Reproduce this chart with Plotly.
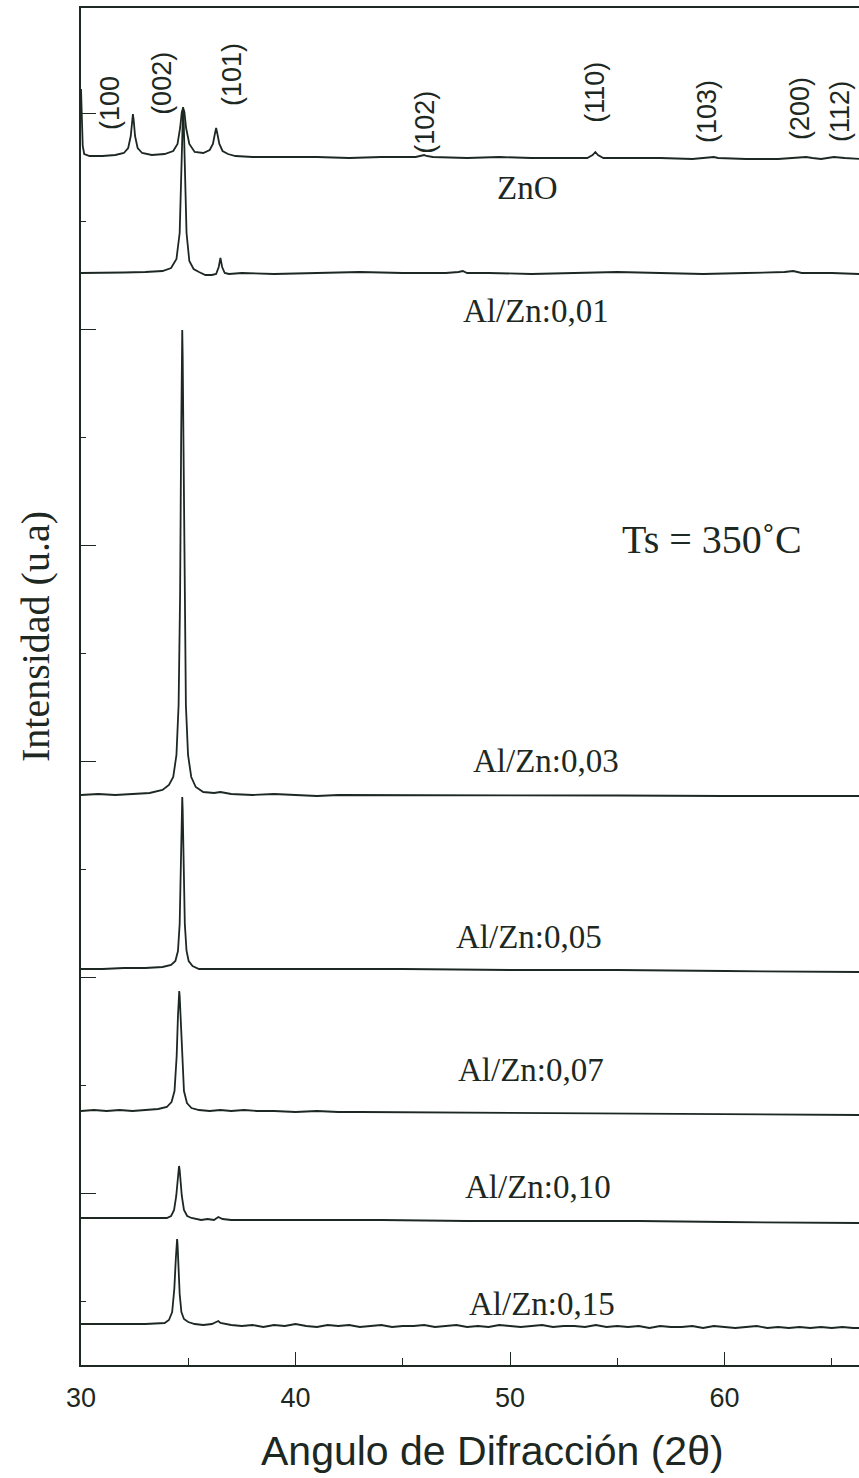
import plotly.graph_objects as go

# ---------------- data ----------------
series_names = ["ZnO", "Al/Zn:0,01", "Al/Zn:0,03", "Al/Zn:0,05", "Al/Zn:0,07", "Al/Zn:0,10", "Al/Zn:0,15"]
series_offsets = [1209, 1092, 570, 396, 254, 147, 41]

zno_x = [30.0, 30.03, 30.08, 30.15, 30.4, 31.0, 31.6, 32.0, 32.2, 32.32, 32.38, 32.42, 32.46, 32.52, 32.64, 32.85,
         33.3, 33.9, 34.3, 34.5, 34.62, 34.7, 34.76, 34.82, 34.9, 35.05, 35.3, 35.7, 36.0, 36.15, 36.24, 36.3, 36.36,
         36.45, 36.6, 36.85, 37.2, 38.0, 39.5, 41.0, 42.5, 44.0, 45.6, 45.9, 46.0, 46.1, 46.4, 48.0, 49.5, 51.0, 52.5,
         53.6, 53.85, 53.98, 54.1, 54.35, 55.5, 57.0, 58.5, 59.3, 59.5, 59.7, 61.0, 62.5, 63.5, 63.8, 64.1, 64.5, 64.8,
         65.1, 65.6, 66.3]
zno_y = [67, 30, 10, 2, 0, 0, 1, 3, 8, 20, 35, 42, 35, 20, 8, 3,
         1, 2, 5, 12, 28, 44, 48, 44, 28, 12, 4, 3, 6, 12, 22, 28, 22,
         12, 5, 2, 0, -1, -1, -1, -2, -1, -1, 0, 1, 0, -1, -2, -1, -2, -2,
         -2, 1, 4, 1, -2, -2, -2, -3, -2, -1, -2, -3, -3, -2, -1, -2, -3, -2,
         -1, -2, -3]

a01_x = [30, 31, 32, 33, 33.8, 34.2, 34.45, 34.6, 34.68, 34.73, 34.76, 34.79, 34.84, 34.92, 35.05, 35.25, 35.5,
         35.8, 36.1, 36.3, 36.42, 36.5, 36.58, 36.7, 36.9, 37.5, 39, 41, 43, 45, 47, 47.6, 47.8, 48.0, 49, 51, 53,
         55, 57, 59, 61, 62.8, 63.2, 63.6, 65, 66.3]
a01_y = [0, 0, 0.5, 1, 2, 5, 14, 40, 100, 150, 166, 150, 100, 40, 12, 4, 1,
         -2, -2, -1, 6, 15, 6, 0, -1, 0, -1, 0, 1, 0, 0, 1, 2, 0, 0, -1, 0,
         1, 0, -1, 0, 1, 2, 0, 0, -1]

a03_x = [30, 30.8, 31.6, 32.4, 33.2, 33.8, 34.1, 34.3, 34.45, 34.55, 34.62, 34.67, 34.70, 34.72, 34.74, 34.77,
         34.82, 34.89, 34.99, 35.14, 35.35, 35.7, 36.2, 36.5, 37, 38, 39, 40, 41, 42, 43, 44, 46, 50, 55, 60, 66.3]
a03_y = [0, 1, 0, 1, 2, 5, 10, 18, 40, 90, 200, 360, 440, 465, 440, 360,
         200, 90, 40, 18, 8, 3, 2, 3, 1, 0, 1, 0, -1, 0, 0, 0, 0, 0, -0.5, -1, -1]

a05_x = [30, 31, 32, 33, 33.8, 34.2, 34.4, 34.52, 34.6, 34.66, 34.70, 34.72, 34.74, 34.78, 34.84, 34.92, 35.02,
         35.2, 35.5, 36, 37, 40, 45, 50, 55, 60, 66.3]
a05_y = [0, 0, 1, 1, 2, 4, 8, 18, 45, 110, 160, 172, 160, 110, 45, 18, 8,
         3, 0, 0, 0, 0, 0, -1, -1, -2, -3]

a07_x = [30, 30.6, 31.2, 31.8, 32.4, 33.0, 33.6, 34.0, 34.22, 34.36, 34.46, 34.52, 34.56, 34.58, 34.6, 34.64,
         34.7, 34.8, 34.94, 35.15, 35.5, 36.0, 36.5, 37.0, 37.6, 38.2, 39.0, 40.0, 41.0, 42.0, 43.0, 50.0, 58.0, 66.3]
a07_y = [0, 1, 0, 1, 0, 1, 2, 4, 9, 20, 55, 95, 115, 120, 115, 95,
         55, 20, 8, 3, 1, 0, 1, 0, 1, 0, 0, -1, 0, -1, -1, -2, -3, -4]

a10_x = [30, 32, 34.0, 34.2, 34.34, 34.44, 34.5, 34.54, 34.57, 34.6, 34.64, 34.7, 34.8, 34.95, 35.15, 35.4, 35.6,
         35.9, 36.2, 36.4, 36.6, 37.0, 38.0, 40.0, 44.0, 48.0, 52.0, 56.0, 60.0, 66.3]
a10_y = [0, 0, 0, 2, 8, 22, 38, 48, 52, 48, 38, 22, 8, 2, 0, -1, -2,
         -1, -2, 1, -1, -2, -2, -2, -2, -3, -3, -3, -4, -5]

a15_x = [30, 31, 32, 33, 33.9, 34.1, 34.25, 34.35, 34.42, 34.46, 34.48, 34.5, 34.54, 34.6, 34.68, 34.8, 35.0,
         35.3, 35.7, 36.1, 36.3, 36.4, 36.5, 36.7,
         37.0, 37.5, 38.0, 38.5, 39.0, 39.5, 40.0, 40.5, 41.0, 41.5, 42.0, 42.5, 43.0, 43.5, 44.0, 44.5, 45.0,
         45.5, 46.0, 46.5, 47.0, 47.5, 48.0, 48.5, 49.0, 49.5, 50.0, 50.5, 51.0, 51.5, 52.0, 52.5, 53.0, 53.5,
         54.0, 54.5, 55.0, 55.5, 56.0, 56.5, 57.0, 57.5, 58.0, 58.5, 59.0, 59.5, 60.0, 60.5, 61.0, 61.5, 62.0,
         62.5, 63.0, 63.5, 64.0, 64.5, 65.0, 65.5, 66.0, 66.3]
a15_y = [0, 0, 0, 0, 1, 4, 12, 35, 65, 80, 85, 80, 60, 30, 12, 5, 2,
         0, -1, 0, 2, 3, 1, 0,
         -1, -2, -1, -3, -1, -2, 0, -2, -3, -1, -2, -1, -3, -2, -1, -3, -2,
         -2, -1, -3, -2, -1, -3, -2, -3, -1, -2, -3, -2, -1, -3, -2, -2, -3,
         -1, -3, -2, -3, -2, -4, -2, -3, -3, -2, -4, -2, -3, -4, -3, -2, -4,
         -3, -4, -3, -4, -3, -4, -3, -4, -4]

series_x = [zno_x, a01_x, a03_x, a05_x, a07_x, a10_x, a15_x]
series_y = [zno_y, a01_y, a03_y, a05_y, a07_y, a10_y, a15_y]

# series label anchors (2theta, a.u.)
series_label_x = [50.8, 51.2, 51.7, 50.9, 51.0, 51.3, 51.5]
series_label_y = [1177, 1054, 604, 428, 295, 178, 61]

# peak (hkl) labels
peak_labels = ["(100", "(002)", "(101)", "(102)", "(110)", "(103)", "(200)", "(112)"]
peak_label_x = [31.35, 33.77, 37.04, 46.03, 53.95, 59.18, 63.52, 65.38]
peak_label_y = [1262, 1282, 1290, 1243, 1273, 1254, 1256, 1254]

temp_text = "Ts = 350˚C"
x_title = "Angulo de Difracción (2θ)"
y_title = "Intensidad (u.a)"
x_tick_vals = [30, 40, 50, 60]

# ---------------- figure ----------------
ink = "#1d2822"
fig = go.Figure()
for name, off, xs, ys in zip(series_names, series_offsets, series_x, series_y):
    assert len(xs) == len(ys), name
    fig.add_trace(go.Scatter(x=xs, y=[off + v for v in ys], mode="lines", name=name,
                             line=dict(color=ink, width=1.8), showlegend=False, hoverinfo="skip"))

serif = "Liberation Serif, Times New Roman, serif"
sans = "Liberation Sans, Arial, sans-serif"

for t, lx, ly in zip(series_names, series_label_x, series_label_y):
    fig.add_annotation(x=lx, y=ly, text=t, showarrow=False, font=dict(family=serif, size=33, color=ink),
                       xanchor="center", yanchor="middle")

for t, lx, ly in zip(peak_labels, peak_label_x, peak_label_y):
    fig.add_annotation(x=lx, y=ly, text=t, showarrow=False, textangle=-90,
                       font=dict(family=sans, size=27, color=ink), xanchor="center", yanchor="middle")

fig.add_annotation(x=59.4, y=826, text=temp_text, showarrow=False,
                   font=dict(family=serif, size=40, color=ink), xanchor="center", yanchor="middle")

fig.add_annotation(xref="paper", x=0, xshift=-46, y=728, text=y_title, showarrow=False, textangle=-90,
                   font=dict(family=serif, size=40, color=ink), xanchor="center", yanchor="middle")
fig.add_annotation(xref="paper", x=0.5, xshift=22, yref="paper", y=0, yshift=-86, text=x_title,
                   showarrow=False, font=dict(family=sans, size=41, color=ink),
                   xanchor="center", yanchor="middle")

fig.update_layout(
    width=859, height=1478,
    margin=dict(l=81, r=0, t=8, b=113),
    paper_bgcolor="white", plot_bgcolor="white",
    xaxis=dict(range=[30, 66.27], showgrid=False, zeroline=False, showline=True, linecolor=ink, linewidth=1.6,
               mirror=True, ticks="inside", tickvals=x_tick_vals, ticklen=13, tickwidth=1.4, tickcolor=ink,
               minor=dict(ticks="inside", dtick=5, tick0=30, ticklen=7, tickwidth=1.4, tickcolor=ink),
               tickfont=dict(family=sans, size=27, color=ink), ticklabelstandoff=8),
    yaxis=dict(range=[0, 1357], showgrid=False, zeroline=False, showline=True, linecolor=ink, linewidth=1.6,
               ticks="inside", tick0=172, dtick=216, ticklen=15, tickwidth=1.4, tickcolor=ink,
               showticklabels=False,
               minor=dict(ticks="inside", tick0=172, dtick=108, ticklen=5, tickwidth=1.2, tickcolor=ink)),
)

fig.write_html("out.html")
